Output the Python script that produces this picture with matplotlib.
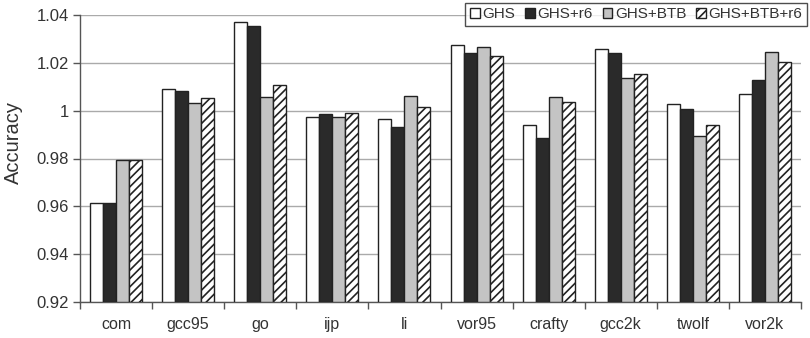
import matplotlib
matplotlib.use("Agg")
import matplotlib.pyplot as plt
import numpy as np

plt.rcParams['font.family'] = ['Liberation Sans', 'DejaVu Sans']
plt.rcParams['hatch.linewidth'] = 1.2

categories = ["com", "gcc95", "go", "ijp", "li", "vor95", "crafty", "gcc2k", "twolf", "vor2k"]
series_names = ["GHS", "GHS+r6", "GHS+BTB", "GHS+BTB+r6"]
ghs = [0.9615, 1.0089, 1.0372, 0.9975, 0.9965, 1.0273, 0.9939, 1.0256, 1.0027, 1.0071]
ghs_r6 = [0.9615, 1.0082, 1.0354, 0.9986, 0.9932, 1.0243, 0.9887, 1.0240, 1.0008, 1.0127]
ghs_btb = [0.9794, 1.0032, 1.0057, 0.9975, 1.0061, 1.0268, 1.0057, 1.0138, 0.9896, 1.0244]
ghs_btb_r6 = [0.9794, 1.0054, 1.0109, 0.9990, 1.0017, 1.0229, 1.0035, 1.0153, 0.9939, 1.0204]
yticks = [0.92, 0.94, 0.96, 0.98, 1.0, 1.02, 1.04]
ytick_labels = ["0.92", "0.94", "0.96", "0.98", "1", "1.02", "1.04"]

fig = plt.figure(figsize=(8.10, 3.38), dpi=100)
ax = fig.add_axes([80/810, 1 - 302/338, 721/810, 287/338])

base = 0.92
x = np.arange(len(categories))
w = 0.18
styles = [
    dict(facecolor="white", edgecolor="#222222", hatch=None),
    dict(facecolor="#2a2a2a", edgecolor="#222222", hatch=None),
    dict(facecolor="#c4c4c4", edgecolor="#222222", hatch=None),
    dict(facecolor="white", edgecolor="#222222", hatch="////"),
]
data = [ghs, ghs_r6, ghs_btb, ghs_btb_r6]
for i, (vals, st, name) in enumerate(zip(data, styles, series_names)):
    vals = np.array(vals)
    ax.bar(x + (i - 1.5) * w, vals - base, w, bottom=base, label=name,
           linewidth=1.0, zorder=3, **st)

ax.set_xlim(-0.5, len(categories) - 0.5)
ax.set_ylim(0.92, 1.04)
ax.set_yticks(yticks)
ax.set_yticklabels(ytick_labels)
ax.set_xticks(x)
ax.set_xticklabels(categories)
ax.set_xticks(np.arange(len(categories) + 1) - 0.5, minor=True)
ax.tick_params(axis='x', which='major', length=0, pad=11, labelsize=11.5, colors="#333333")
ax.tick_params(axis='x', which='minor', length=5, width=1, color="#555555", direction='out')
ax.tick_params(axis='y', length=5, width=1, color="#555555", labelsize=12, labelcolor="#333333", pad=3)
ax.grid(axis='y', color="#aaaaaa", linewidth=1, zorder=0)
ax.set_axisbelow(True)
for s in ["top", "right"]:
    ax.spines[s].set_visible(False)
for s in ["left", "bottom"]:
    ax.spines[s].set_color("#555555")
    ax.spines[s].set_linewidth(1)
ax.set_ylabel("Accuracy", fontsize=14.5, color="#333333")
ax.yaxis.set_label_coords(-0.079, 0.555)

leg = ax.legend(loc='upper right', bbox_to_anchor=(1.008, 1.043), ncol=4, frameon=True,
                fancybox=False, edgecolor="#222222", fontsize=11,
                handlelength=0.65, handleheight=0.65, handletextpad=0.15,
                columnspacing=0.65, borderpad=0.3, borderaxespad=0)
leg.get_frame().set_linewidth(1)
for t in leg.get_texts():
    t.set_color("#333333")

fig.savefig("out.png", dpi=100)
